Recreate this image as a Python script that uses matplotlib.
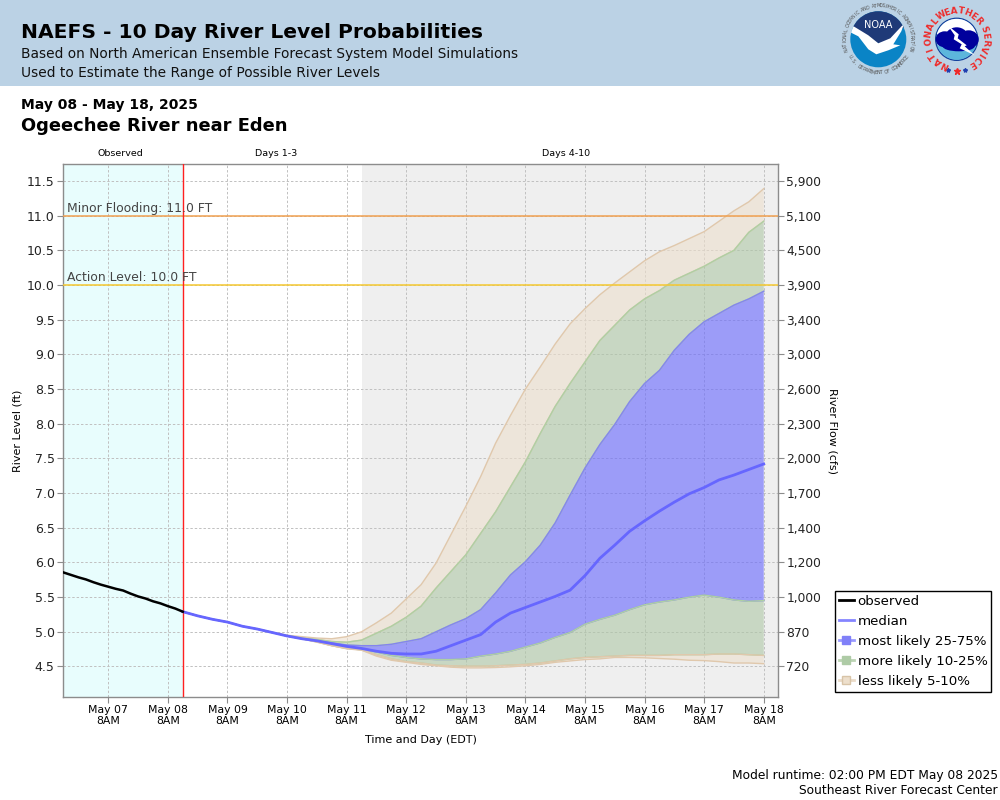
import numpy as np
import pandas as pd
import matplotlib
matplotlib.use("Agg")
import matplotlib.pyplot as plt
from matplotlib.lines import Line2D
from matplotlib.patches import Circle, Ellipse, Polygon, Rectangle, Wedge

# observed stage, every 3 hours
obs_times = pd.date_range("2025-05-06 14:00", "2025-05-08 14:00", freq="3h")
observed = [5.855, 5.82, 5.785, 5.755, 5.715, 5.68, 5.65, 5.62, 5.595,
            5.55, 5.51, 5.48, 5.44, 5.41, 5.37, 5.335, 5.29]

# forecast percentiles, every 6 hours
fc_times = pd.date_range("2025-05-08 14:00", "2025-05-18 08:00", freq="6h")
median = [5.29, 5.23, 5.18, 5.14, 5.08, 5.04, 4.99, 4.94, 4.90, 4.87, 4.83, 4.79,
          4.76, 4.72, 4.69, 4.68, 4.68, 4.72, 4.80, 4.88, 4.96, 5.14, 5.27, 5.35, 5.43, 5.51,
          5.60, 5.81, 6.06, 6.25, 6.45, 6.60, 6.74, 6.87, 6.99, 7.08, 7.19, 7.26, 7.34, 7.42]
p95 = [5.29, 5.23, 5.18, 5.14, 5.08, 5.04, 4.995, 4.95, 4.93, 4.91, 4.90, 4.93,
       5.0, 5.13, 5.27, 5.475, 5.68, 5.99, 6.40, 6.81, 7.24, 7.72, 8.12, 8.50, 8.82, 9.15,
       9.44, 9.66, 9.86, 10.03, 10.19, 10.35, 10.48, 10.57, 10.67, 10.77, 10.92, 11.07, 11.2, 11.39]
p90 = [5.29, 5.23, 5.18, 5.14, 5.08, 5.04, 4.99, 4.945, 4.91, 4.89, 4.86, 4.85,
       4.88, 4.98, 5.08, 5.21, 5.37, 5.63, 5.87, 6.11, 6.42, 6.73, 7.09, 7.45, 7.86, 8.25,
       8.58, 8.89, 9.2, 9.42, 9.64, 9.80, 9.92, 10.07, 10.17, 10.27, 10.39, 10.5, 10.76, 10.92]
p75 = [5.29, 5.23, 5.18, 5.14, 5.08, 5.04, 4.99, 4.94, 4.90, 4.87, 4.84, 4.81,
       4.80, 4.80, 4.82, 4.86, 4.90, 5.0, 5.10, 5.19, 5.32, 5.56, 5.82, 6.01, 6.25, 6.57,
       6.97, 7.36, 7.70, 7.99, 8.32, 8.58, 8.77, 9.06, 9.29, 9.47, 9.59, 9.71, 9.80, 9.91]
p25 = [5.29, 5.23, 5.18, 5.14, 5.08, 5.04, 4.99, 4.94, 4.90, 4.86, 4.81, 4.77,
       4.75, 4.71, 4.66, 4.63, 4.61, 4.60, 4.60, 4.61, 4.65, 4.68, 4.72, 4.78, 4.84, 4.92,
       4.99, 5.11, 5.18, 5.24, 5.32, 5.39, 5.43, 5.46, 5.50, 5.53, 5.50, 5.46, 5.44, 5.45]
p10 = [5.29, 5.23, 5.18, 5.14, 5.08, 5.04, 4.99, 4.94, 4.90, 4.855, 4.80, 4.76,
       4.74, 4.67, 4.61, 4.57, 4.55, 4.52, 4.51, 4.505, 4.505, 4.51, 4.52, 4.53, 4.55, 4.58,
       4.61, 4.63, 4.64, 4.65, 4.66, 4.66, 4.66, 4.67, 4.67, 4.67, 4.68, 4.68, 4.67, 4.66]
p5 = [5.29, 5.23, 5.18, 5.14, 5.08, 5.04, 4.99, 4.94, 4.90, 4.85, 4.80, 4.755,
      4.735, 4.65, 4.59, 4.56, 4.53, 4.51, 4.49, 4.48, 4.48, 4.485, 4.495, 4.51, 4.53, 4.56,
      4.58, 4.60, 4.61, 4.63, 4.63, 4.625, 4.615, 4.605, 4.59, 4.585, 4.57, 4.55, 4.55, 4.54]

y_ticks = [4.5, 5.0, 5.5, 6.0, 6.5, 7.0, 7.5, 8.0, 8.5, 9.0, 9.5, 10.0, 10.5, 11.0, 11.5]
flow_labels = ["720", "870", "1,000", "1,200", "1,400", "1,700", "2,000", "2,300",
               "2,600", "3,000", "3,400", "3,900", "4,500", "5,100", "5,900"]
x_days = pd.date_range("2025-05-07 08:00", "2025-05-18 08:00", freq="1D")

BLUE = "#6666ff"
GREY = "#8c8c8c"
W, H = 1000, 800

fig = plt.figure(figsize=(W / 100, H / 100), dpi=100, facecolor="white")

# page furniture is placed in pixel coordinates
page = fig.add_axes([0, 0, 1, 1], zorder=0)
page.set_xlim(0, W)
page.set_ylim(H, 0)
page.axis("off")
page.add_patch(Rectangle((0, 0), W, 86, color="#bbd2e5", lw=0))

page.text(21, 33, "NAEFS - 10 Day River Level Probabilities", fontsize=14.6, fontweight="bold", va="center")
page.text(21, 54, "Based on North American Ensemble Forecast System Model Simulations", fontsize=9.95, va="center", color="#111111")
page.text(21, 73, "Used to Estimate the Range of Possible River Levels", fontsize=9.95, va="center", color="#111111")
page.text(21, 105, "May 08 - May 18, 2025", fontsize=10, fontweight="bold", va="center")
page.text(21, 126, "Ogeechee River near Eden", fontsize=12.85, fontweight="bold", va="center")
page.text(120, 154, "Observed", fontsize=6.8, ha="center", va="center")
page.text(276, 154, "Days 1-3", fontsize=6.8, ha="center", va="center")
page.text(566, 154, "Days 4-10", fontsize=6.8, ha="center", va="center")
page.text(18, 431, "River Level (ft)", fontsize=8, rotation=90, ha="center", va="center")
page.text(832, 431, "River Flow (cfs)", fontsize=8, rotation=270, ha="center", va="center")
page.text(421, 740, "Time and Day (EDT)", fontsize=8, ha="center", va="center")
page.text(998, 775, "Model runtime: 02:00 PM EDT May 08 2025", fontsize=8.8, ha="right", va="center")
page.text(998, 791, "Southeast River Forecast Center", fontsize=8.8, ha="right", va="center")


def ring_text(text, cx, cy, r, start, end, size, color, weight="normal", flip=False):
    # angles in degrees, clockwise from straight up
    for ch, a in zip(text, np.linspace(start, end, len(text))):
        t = np.radians(a)
        rot = 180 - a if flip else -a
        page.text(cx + r * np.sin(t), cy - r * np.cos(t), ch, fontsize=size, color=color,
                  fontweight=weight, rotation=rot, ha="center", va="center", rotation_mode="anchor")


# NOAA logo
nx, ny = 878.3, 39.3
disc = Circle((nx, ny), 28, color="#0a84c6", lw=0)
page.add_patch(disc)
navy = Polygon([(nx - 30, ny - 30), (nx + 30, ny - 30), (nx + 30, ny - 16), (nx + 10, ny + 2),
                (nx, ny + 4), (nx - 10, ny - 2), (nx - 30, ny - 16)], color="#1f3a78", lw=0)
page.add_patch(navy)
navy.set_clip_path(disc)
gull = Polygon([(nx - 28, ny - 15), (nx - 10, ny - 4), (nx, ny + 4), (nx + 12, ny - 1), (nx + 26, ny - 16),
                (nx + 23, ny - 8), (nx + 15, ny + 5), (nx + 22, ny + 6), (nx + 10, ny + 11), (nx - 2, ny + 15),
                (nx - 10, ny + 10), (nx - 20, ny - 3), (nx - 28, ny - 7)], color="white", lw=0)
page.add_patch(gull)
gull.set_clip_path(disc)
page.text(nx, ny - 14, "NOAA", fontsize=7, color="white", ha="center", va="center")
ring_text("NATIONAL OCEANIC AND ATMOSPHERIC ADMINISTRATION", nx, ny, 33.5, -108, 108, 3.4, "#555555")
ring_text("U.S. DEPARTMENT OF COMMERCE", nx, ny, 33.5, 238, 122, 3.4, "#555555", flip=True)

# NWS logo
wx, wy = 956.7, 39.3
sky = Circle((wx, wy), 21, facecolor="#8ed0e8", edgecolor="#123f9c", lw=1)
page.add_patch(sky)
page.add_patch(Wedge((wx, wy), 20.5, 20, 160, facecolor="#5cb6dc", lw=0))
page.add_patch(Wedge((wx, wy), 20.5, 195, 345, facecolor="white", lw=0))
for ex, ey, ew, eh in [(-12, 0, 18, 16), (0, -1, 24, 22), (12, 0, 20, 18), (2, 7, 32, 10)]:
    page.add_patch(Ellipse((wx + ex, wy + ey), ew, eh, color="#00009c", lw=0))
page.add_patch(Polygon([(wx - 9, wy - 14), (wx + 2, wy - 5), (wx + 1, wy - 1), (wx + 10, wy + 6), (wx + 8, wy + 7),
                        (wx + 18, wy + 16), (wx + 3, wy + 9), (wx + 5, wy + 5), (wx - 3, wy), (wx - 2, wy - 4)],
                       color="white", lw=0))
ring_text("NATIONAL", wx, wy, 28.5, -155, -50, 6.3, "#ee2b2b", weight="bold")
ring_text("WEATHER", wx, wy, 28.5, -33, 50, 6.3, "#ee2b2b", weight="bold")
ring_text("SERVICE", wx, wy, 28.5, 70, 148, 6.3, "#ee2b2b", weight="bold")
page.plot([wx - 8.5, wx + 8.5], [wy + 31, wy + 31], ls="none", marker="*", ms=3, color="#2040b0")
page.plot([wx], [wy + 32], ls="none", marker="*", ms=5, color="#ee2b2b")

# main plot, box is 63..778 by 164..697 in pixels
ax = fig.add_axes([63 / W, 1 - 697 / H, 715 / W, 533 / H], zorder=2)
ax.set_facecolor("white")
start = pd.Timestamp("2025-05-06 13:45")
now = pd.Timestamp("2025-05-08 14:00")
grey_from = pd.Timestamp("2025-05-11 14:00")
end = pd.Timestamp("2025-05-18 13:45")
ax.set_xlim(start, end)
ax.set_ylim(4.06, 11.745)

ax.axvspan(start, now, color="#e8fdfd", lw=0, zorder=0)
ax.axvspan(grey_from, end, color="#efefef", lw=0, zorder=0)

ax.set_xticks(x_days)
ax.set_xticklabels([d.strftime("%b %d") + "\n8AM" for d in x_days], fontsize=7.8, linespacing=1.1)
ax.set_yticks(y_ticks)
ax.set_yticklabels(["%.1f" % v for v in y_ticks], fontsize=9, color="#222222")
ax.grid(True, color="#c0c0c0", ls=(0, (2.5, 2)), lw=0.7, zorder=1)
ax.set_axisbelow(True)
ax.tick_params(axis="both", color=GREY, length=4, width=0.8, pad=2)
for s in ax.spines.values():
    s.set_color(GREY)
    s.set_linewidth(1)

# keep the grid showing faintly through the bands
bands = [(p95, p90, "#eddfcc", "#e0c8ac"), (p90, p75, "#aec7a6", "#aed0a4"),
         (p75, p25, BLUE, "#8484f0"), (p25, p10, "#aec7a6", "#aed0a4"), (p10, p5, "#eddfcc", "#e0c8ac")]
for hi, lo, col, edge in bands:
    ax.fill_between(fc_times, lo, hi, facecolor=col, alpha=0.6, lw=0, zorder=2)
    ax.plot(fc_times, hi, color=edge, lw=1, zorder=2.5)
    ax.plot(fc_times, lo, color=edge, lw=1, zorder=2.5)

ax.axhline(11.0, color="#f0a050", lw=1.1, zorder=3)
ax.axhline(10.0, color="#f5c830", lw=1.1, zorder=3)
ax.axvline(now, color="#ff2020", lw=1, zorder=3.5)
ax.text(pd.Timestamp("2025-05-06 15:30"), 11.01, "Minor Flooding: 11.0 FT", fontsize=8.9, color="#444444", va="bottom", zorder=4)
ax.text(pd.Timestamp("2025-05-06 15:30"), 10.01, "Action Level: 10.0 FT", fontsize=8.9, color="#444444", va="bottom", zorder=4)

ax.plot(fc_times, median, color=BLUE, lw=2, zorder=5)
ax.plot(obs_times, observed, color="black", lw=1.8, zorder=6)

right = ax.twinx()
right.set_ylim(ax.get_ylim())
right.set_yticks(y_ticks)
right.set_yticklabels(flow_labels, fontsize=8.8, color="#222222")
right.tick_params(axis="y", color=GREY, length=4, width=0.8, pad=2)
for s in right.spines.values():
    s.set_visible(False)

handles = [
    Line2D([], [], color="black", lw=2),
    Line2D([], [], color=BLUE, alpha=0.8, lw=2),
    Line2D([], [], color="#9a9aff", lw=2, marker="s", ms=6, mfc="#8080f8", mec="#8080f8"),
    Line2D([], [], color="#bcd4b4", lw=2, marker="s", ms=6, mfc="#aecba6", mec="#aecba6"),
    Line2D([], [], color="#eadbc8", lw=2, marker="s", ms=6, mfc="#eddfcc", mec="#d8c4a8"),
]
labels = ["observed", "median", "most likely 25-75%", "more likely 10-25%", "less likely 5-10%"]
leg = fig.legend(handles, labels, loc="upper left", bbox_to_anchor=(835 / W, 1 - 591 / H), fontsize=9.65,
                 frameon=True, fancybox=False, edgecolor="black", framealpha=1, handlelength=1.1,
                 handletextpad=0.28, labelspacing=0.52, borderpad=0.3, borderaxespad=0)
leg.get_frame().set_linewidth(1)

fig.savefig("out.png", dpi=100)
